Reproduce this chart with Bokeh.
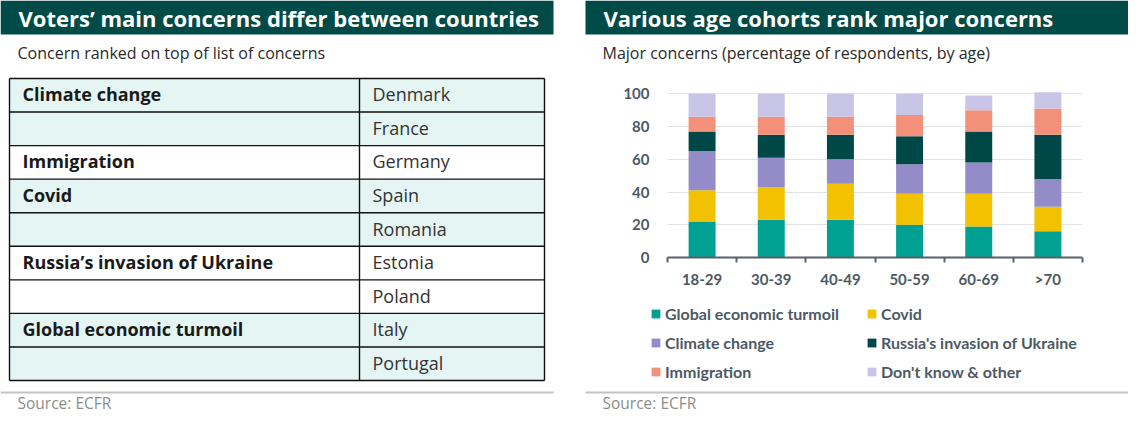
from bokeh.plotting import figure
from bokeh.layouts import row, column
from bokeh.models import Range1d, FixedTicker, Legend, LegendItem, ColumnDataSource
from bokeh.core.properties import value
from bokeh.embed import file_html
from bokeh.resources import INLINE

# ---------------- data ----------------
left_title = "Voters’ main concerns differ between countries"
left_subtitle = "Concern ranked on top of list of concerns"
table_concerns = ["Climate change", "", "Immigration", "Covid", "",
                  "Russia’s invasion of Ukraine", "", "Global economic turmoil", ""]
table_countries = ["Denmark", "France", "Germany", "Spain", "Romania",
                   "Estonia", "Poland", "Italy", "Portugal"]
table_group = [0, 0, 1, 2, 2, 3, 3, 4, 4]

right_title = "Various age cohorts rank major concerns"
right_subtitle = "Major concerns (percentage of respondents, by age)"
source_text = "Source: ECFR"

age_groups = ["18-29", "30-39", "40-49", "50-59", "60-69", ">70"]
global_econ = [22, 23, 23, 20, 19, 16]
covid = [19, 20, 22, 19, 20, 15]
climate = [24, 18, 15, 18, 19, 17]
russia = [12, 14, 15, 17, 19, 27]
immigration = [9, 11, 11, 13, 13, 16]
dont_know = [14, 14, 14, 13, 9, 10]
series_labels = ["Global economic turmoil", "Covid", "Climate change",
                 "Russia's invasion of Ukraine", "Immigration", "Don't know & other"]
y_ticks = [0, 20, 40, 60, 80, 100]

# ---------------- style ----------------
TFONT = value("Open Sans")
HEADER = "#004a47"
COLORS = ["#00a193", "#f2c100", "#948cc8", "#004848", "#f2907a", "#c9c5e6"]
MINT = "#e4f5f3"
AXIS = "#56616a"
LABEL = "#4d5963"


def canvas(x0, x1, y0, y1):
    p = figure(width=x1 - x0, height=y1 - y0,
               x_range=Range1d(x0, x1), y_range=Range1d(y1, y0),
               x_axis_location=None, y_axis_location=None,
               output_backend="svg", toolbar_location=None, min_border=0,
               frame_align=False)
    p.grid.visible = False
    p.outline_line_color = None
    return p


def header(p, x0, x1, title, subtitle, tx):
    p.quad(left=[x0], right=[x1], top=[3], bottom=[37], fill_color=HEADER, line_color=None)
    p.text(x=[tx], y=[20], text=[title], text_font=TFONT, text_font_size="22px",
           text_font_style="bold", text_color="white", text_baseline="middle")
    p.text(x=[tx - 1], y=[55], text=[subtitle], text_font=TFONT, text_font_size="16px",
           text_color="#2a2a2a", text_baseline="middle")


def footer(p, x0, x1, tx):
    p.segment(x0=[x0], x1=[x1], y0=[395], y1=[395], line_color="#c2c2c2", line_width=2)
    p.text(x=[tx], y=[405], text=[source_text], text_font=TFONT, text_font_size="15.5px",
           text_color="#8c8c8c", text_baseline="middle")


# ---------------- left panel: table ----------------
left = canvas(3, 567, 3, 416)
header(left, 3, 556, left_title, left_subtitle, 21)

T_LEFT, T_RIGHT, T_DIV, T_TOP, T_BOT = 12, 547, 362, 81, 383
n = len(table_countries)
rh = (T_BOT - T_TOP) / n
tops = [T_TOP + i * rh for i in range(n)]
bots = [t + rh for t in tops]
fills = [MINT if g % 2 == 0 else "white" for g in table_group]
left.quad(left=[T_LEFT] * n, right=[T_RIGHT] * n, top=tops, bottom=bots,
          fill_color=fills, line_color=None)
hy = [T_TOP + i * rh for i in range(n + 1)]
left.segment(x0=[T_LEFT] * (n + 1), x1=[T_RIGHT] * (n + 1), y0=hy, y1=hy,
             line_color="#111111", line_width=1.4)
left.segment(x0=[T_LEFT, T_DIV, T_RIGHT], x1=[T_LEFT, T_DIV, T_RIGHT],
             y0=[T_TOP] * 3, y1=[T_BOT] * 3, line_color="#111111", line_width=1.4)
mids = [t + rh / 2 - 1 for t in tops]
left.text(x=[25] * n, y=mids, text=table_concerns, text_font=TFONT, text_font_size="18px",
          text_font_style="bold", text_color="#1a1a1a", text_baseline="middle")
left.text(x=[375] * n, y=mids, text=table_countries, text_font=TFONT, text_font_size="18px",
          text_color="#333333", text_baseline="middle")
footer(left, 3, 556, 20)

# ---------------- right panel ----------------
rhead = canvas(567, 1131, 3, 88)
header(rhead, 588, 1131, right_title, right_subtitle, 606)

chart = figure(width=564, height=212, x_range=Range1d(-0.5, 5.5), y_range=Range1d(0, 102),
               output_backend="svg", toolbar_location=None, frame_align=False,
               min_border_left=103, min_border_right=46, min_border_top=5, min_border_bottom=40)
chart.outline_line_color = None
chart.xgrid.visible = False
chart.ygrid.grid_line_color = "#e2e2e2"
chart.ygrid.grid_line_width = 1

keys = ["g", "c", "cl", "r", "i", "d"]
src = ColumnDataSource(dict(x=list(range(len(age_groups))), g=global_econ, c=covid,
                            cl=climate, r=russia, i=immigration, d=dont_know))
chart.vbar_stack(keys, x="x", width=0.39, source=src, fill_color=COLORS, line_color=None)

chart.xaxis.ticker = FixedTicker(ticks=list(range(len(age_groups))),
                                 minor_ticks=[i - 0.5 for i in range(len(age_groups) + 1)])
chart.xaxis.major_label_overrides = {i: a for i, a in enumerate(age_groups)}
chart.xaxis.axis_line_color = AXIS
chart.xaxis.axis_line_width = 2
chart.xaxis.major_tick_line_color = None
chart.xaxis.major_tick_out = 0
chart.xaxis.major_tick_in = 0
chart.xaxis.minor_tick_line_color = AXIS
chart.xaxis.minor_tick_line_width = 2
chart.xaxis.minor_tick_out = 5
chart.xaxis.minor_tick_in = 0
chart.xaxis.major_label_standoff = 7

chart.yaxis.ticker = FixedTicker(ticks=y_ticks)
chart.yaxis.axis_line_color = None
chart.yaxis.major_tick_line_color = None
chart.yaxis.minor_tick_line_color = None
chart.yaxis.major_tick_out = 0
chart.yaxis.major_tick_in = 0
chart.yaxis.major_label_standoff = 18

for ax in (chart.xaxis, chart.yaxis):
    ax.major_label_text_font = "Lato"
    ax.major_label_text_font_size = "15px"
    ax.major_label_text_font_style = "bold"
    ax.major_label_text_color = LABEL

# legend area: swatch renderers share the bar colours (their single datum lies off-canvas)
legfig = canvas(567, 1131, 300, 390)
swatches = [legfig.quad(left=[0], right=[1], top=[0], bottom=[1], fill_color=c, line_color=None)
            for c in COLORS]


def make_legend(idx, loc):
    return Legend(items=[LegendItem(label=series_labels[i], renderers=[swatches[i]]) for i in idx],
                  location=loc, orientation="vertical", padding=0, margin=0, spacing=9,
                  glyph_width=11, glyph_height=11, label_height=20, label_standoff=4,
                  border_line_color=None, background_fill_alpha=0,
                  label_text_font="Lato", label_text_font_size="16px",
                  label_text_font_style="bold", label_text_color=LABEL)


legfig.add_layout(make_legend([0, 2, 4], (86, 6)), "center")
legfig.add_layout(make_legend([1, 3, 5], (302, 6)), "center")

rfoot = canvas(567, 1131, 390, 416)
footer(rfoot, 588, 1131, 605)

layout = row(left, column(rhead, chart, legfig, rfoot))

with open("out.html", "w") as f:
    f.write(file_html(layout, INLINE))
